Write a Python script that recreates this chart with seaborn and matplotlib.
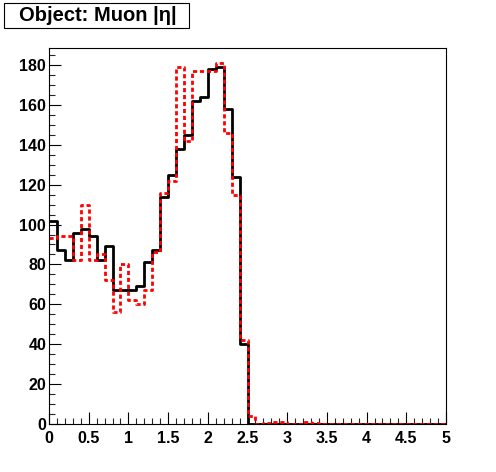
import numpy as np
import pandas as pd
import matplotlib
matplotlib.use("Agg")
import matplotlib.pyplot as plt
from matplotlib.patches import Rectangle
from matplotlib.ticker import MultipleLocator
import seaborn as sns

# ---- data (50 bins of width 0.1 from 0 to 5) ----
n_bins = 50
x_range = (0.0, 5.0)
black_counts = [102, 87, 82, 96, 98, 94, 82, 89, 67, 67,
                67, 69, 81, 87, 114, 125, 138, 145, 162, 164,
                178, 179, 158, 124, 40, 0, 0, 0, 0, 0,
                0, 0, 0, 0, 0, 0, 0, 0, 0, 0,
                0, 0, 0, 0, 0, 0, 0, 0, 0, 0]
red_counts = [93, 94, 94, 82, 110, 82, 85, 72, 56, 80,
              62, 60, 67, 86, 116, 122, 179, 142, 177, 177,
              177, 181, 146, 115, 42, 4, 0, 0.5, 1, 1,
              0, 0, 1, 0.5, 0, 0, 0, 0, 0, 0,
              0, 0, 0, 0, 0, 0, 0, 0, 0, 0]
title_text = "Object: Muon |η|"
x_ticks = [0, 0.5, 1, 1.5, 2, 2.5, 3, 3.5, 4, 4.5, 5]
x_tick_labels = ["0", "0.5", "1", "1.5", "2", "2.5", "3", "3.5", "4", "4.5", "5"]
y_ticks = [0, 20, 40, 60, 80, 100, 120, 140, 160, 180]

width = (x_range[1] - x_range[0]) / n_bins
centers = x_range[0] + width * (np.arange(n_bins) + 0.5)
df = pd.DataFrame({"eta": centers,
                   "black": np.asarray(black_counts, dtype=float),
                   "red": np.asarray(red_counts, dtype=float)})

sns.set_style("white")
plt.rcParams["font.family"] = ["Liberation Sans", "DejaVu Sans"]

fig = plt.figure(figsize=(4.96, 4.72), dpi=100)
ax = fig.add_axes([49 / 496, (472 - 424) / 472, (446 - 49) / 496, (424 - 48) / 472])

sns.histplot(data=df, x="eta", weights="black", bins=n_bins, binrange=x_range,
             element="step", fill=False, color="black", linewidth=2.0, ax=ax)
sns.histplot(data=df, x="eta", weights="red", bins=n_bins, binrange=x_range,
             element="step", fill=False, color="#ff0000", linewidth=2.0,
             linestyle=(0, (1.5, 1.0)), ax=ax)

ax.set_xlim(0, 5)
ax.set_ylim(0, 188.5)
ax.set_xlabel("")
ax.set_ylabel("")
ax.set_xticks(x_ticks)
ax.set_xticklabels(x_tick_labels)
ax.set_yticks(y_ticks)
ax.xaxis.set_minor_locator(MultipleLocator(0.1))
ax.yaxis.set_minor_locator(MultipleLocator(5))
ax.tick_params(axis="both", which="major", direction="in", length=8.5, width=0.8,
               labelsize=11.5, colors="black")
ax.tick_params(axis="both", which="minor", direction="in", length=4.3, width=0.8)
ax.tick_params(axis="y", which="both", left=True, right=False, pad=2)
ax.tick_params(axis="x", which="both", bottom=True, top=False, pad=5)
for lab in ax.get_xticklabels() + ax.get_yticklabels():
    lab.set_fontweight("bold")
for sp in ax.spines.values():
    sp.set_visible(True)
    sp.set_color("black")
    sp.set_linewidth(0.8)

# title box
fig.patches.append(Rectangle((4 / 496, (472 - 28) / 472), 185 / 496, 25 / 472,
                             transform=fig.transFigure, facecolor="white",
                             edgecolor="black", linewidth=0.8))
fig.text(98 / 496, (472 - 15.5) / 472, title_text, ha="center", va="center",
         fontsize=14.5, fontweight="bold", color="black")

fig.savefig("out.png", dpi=100)
